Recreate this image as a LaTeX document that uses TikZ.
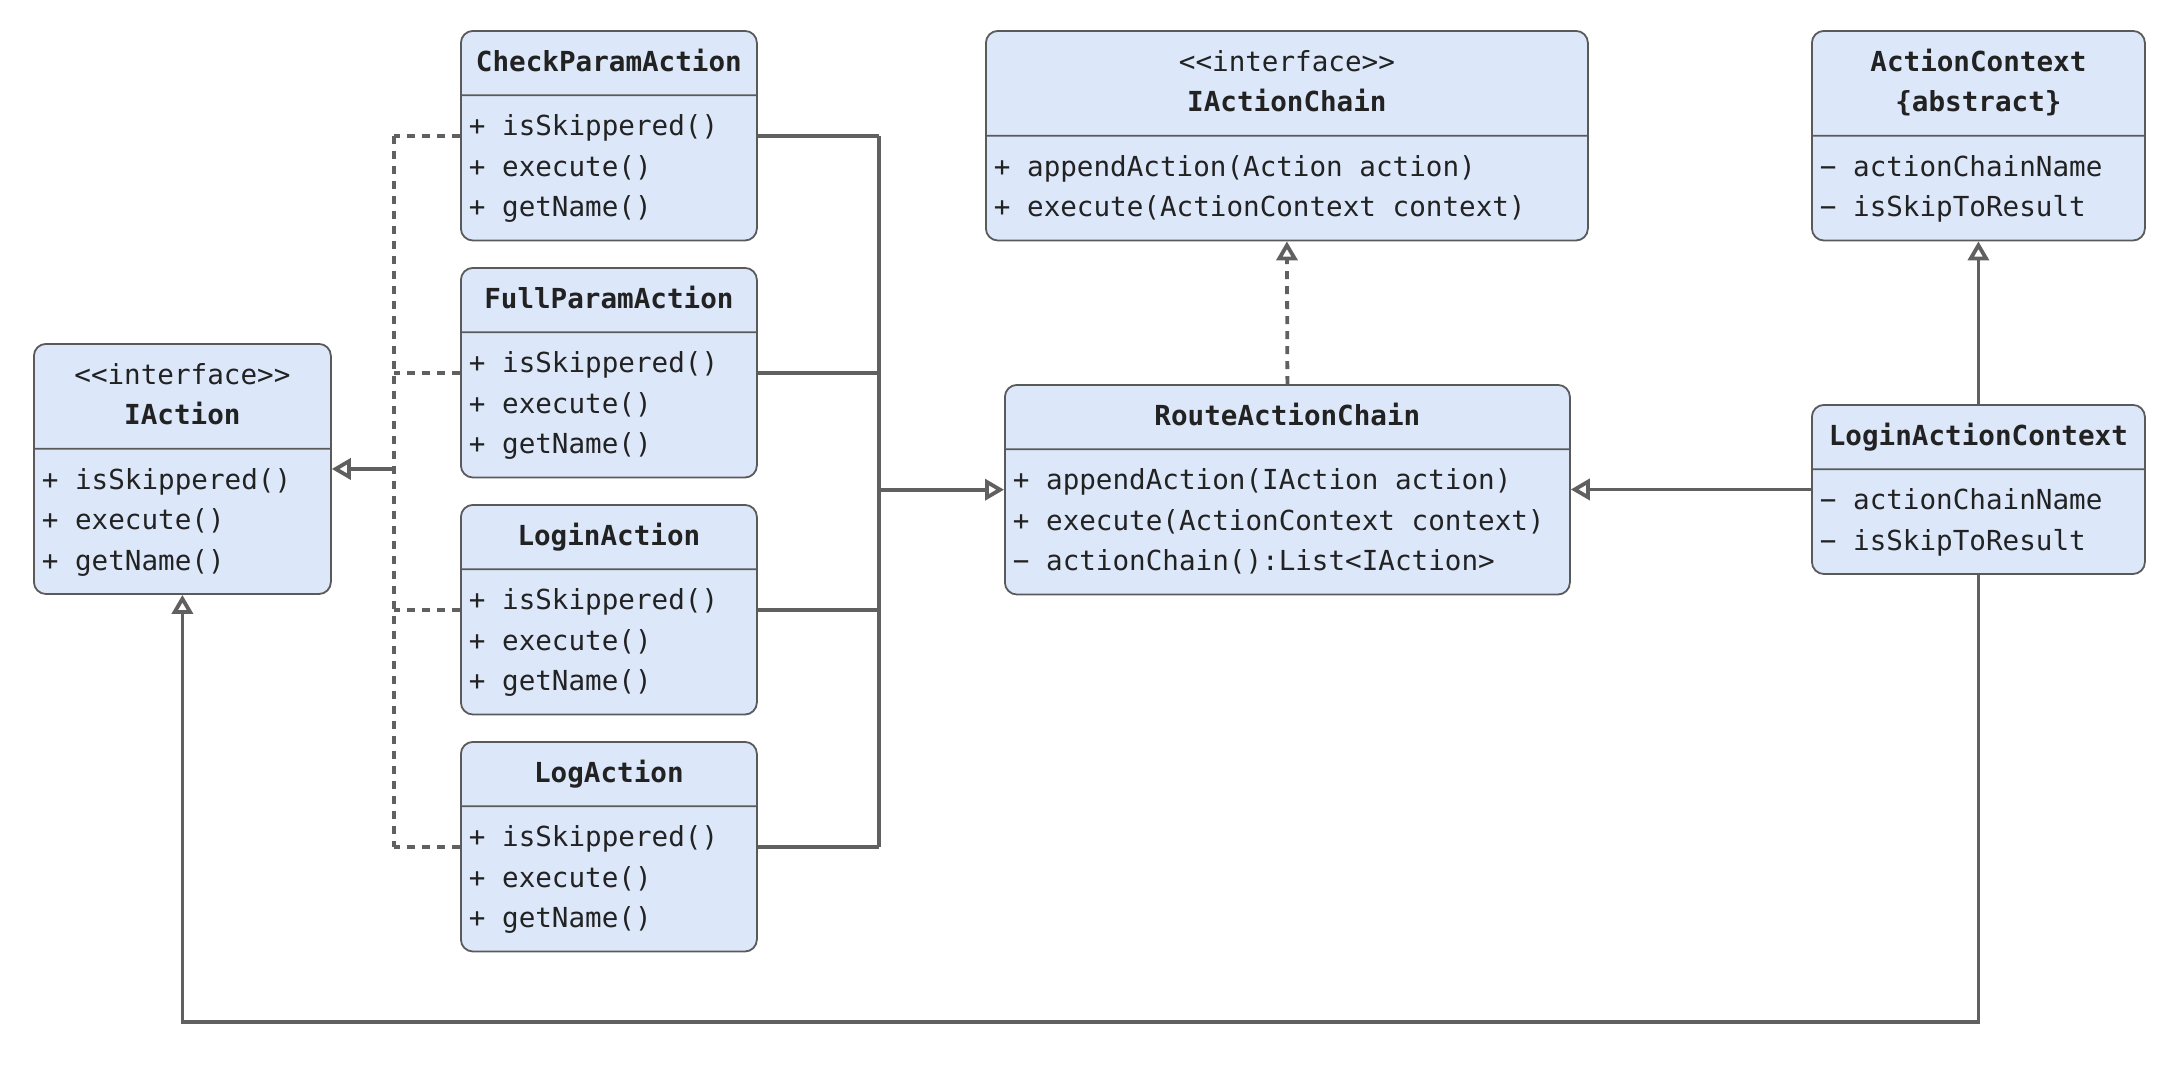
\documentclass[tikz,border=0pt]{standalone}
\usepackage{fontspec}
\setmonofont{DejaVu Sans Mono}
\usepackage{tikz}
\usetikzlibrary{shapes.multipart, arrows.meta, positioning}
\definecolor{classfill}{RGB}{220,232,250}
\definecolor{classedge}{RGB}{90,90,90}
\definecolor{linkgray}{RGB}{96,96,96}
\definecolor{textdark}{RGB}{34,34,34}
\newcommand{\headstrut}{\rule[-6pt]{0pt}{20.25pt}}
\newcommand{\bodystrut}{\rule[-6pt]{0pt}{20.25pt}}
\tikzset{
  class_font/.style = {font=\ttfamily\fontsize{13.8pt}{20.25pt}\selectfont, text=textdark},
  uml_class/.style = {class_font, rectangle split, rectangle split parts=2,
    draw=classedge, fill=classfill, line width=0.9pt, rounded corners=6pt,
    inner xsep=4pt, inner ysep=5.5pt, align=flush left, anchor=north west},
  action_size/.style = {text width=140pt},
  chain_size/.style = {text width=293pt},
  context_size/.style = {text width=158.5pt}
}
\tikzset{
  link/.style = {draw=linkgray, line width=1.9pt},
  realizes/.style = {link, dash pattern=on 4pt off 3.5pt},
  to_parent/.style = {-{Triangle[open, length=9.5pt, width=10.5pt]}}
}
\begin{document}
\begin{tikzpicture}[x=0.5pt, y=-0.5pt]
    \useasboundingbox (0,0) rectangle (2168,1072);

    % Bus points
    \coordinate (left_bus) at (394,0);
    \coordinate (right_bus) at (879,0);
    \coordinate (bottom_row) at (0,1022);

    % Interface
    \node[uml_class, text width=140.5pt] at (33,343) (iaction) {
        \centering\headstrut <{}<interface>{}>\\ \bfseries\headstrut IAction\par
        \nodepart{two}\bodystrut + isSkippered()\\ \bodystrut + execute()\\ \bodystrut + getName()
        };

    % Actions
    \node[uml_class, action_size] at (460,30) (check_param) {
        \centering\bfseries\headstrut CheckParamAction\par
        \nodepart{two}\bodystrut + isSkippered()\\ \bodystrut + execute()\\ \bodystrut + getName()
        };
    \node[uml_class, action_size, below=12.8pt of check_param] (full_param) {
        \centering\bfseries\headstrut FullParamAction\par
        \nodepart{two}\bodystrut + isSkippered()\\ \bodystrut + execute()\\ \bodystrut + getName()
        };
    \node[uml_class, action_size, below=12.8pt of full_param] (login_action) {
        \centering\bfseries\headstrut LoginAction\par
        \nodepart{two}\bodystrut + isSkippered()\\ \bodystrut + execute()\\ \bodystrut + getName()
        };
    \node[uml_class, action_size, below=12.8pt of login_action] (log_action) {
        \centering\bfseries\headstrut LogAction\par
        \nodepart{two}\bodystrut + isSkippered()\\ \bodystrut + execute()\\ \bodystrut + getName()
        };

    % Chains
    \node[uml_class, chain_size] at (985,30) (iaction_chain) {
        \centering\headstrut <{}<interface>{}>\\ \bfseries\headstrut IActionChain\par
        \nodepart{two}\bodystrut + appendAction(Action action)\\ \bodystrut + execute(ActionContext context)
        };
    \node[uml_class, text width=274.5pt] at (1004,384) (route_chain) {
        \centering\bfseries\headstrut RouteActionChain\par
        \nodepart{two}\bodystrut + appendAction(IAction action)\\ \bodystrut + execute(ActionContext context)\\ \bodystrut − actionChain():List<IAction>
        };

    % Contexts
    \node[uml_class, context_size] at (1811,30) (action_context) {
        \centering\bfseries\headstrut ActionContext\\ \headstrut \{abstract\}\par
        \nodepart{two}\bodystrut − actionChainName\\ \bodystrut − isSkipToResult
        };
    \node[uml_class, context_size] at (1811,404) (login_context) {
        \centering\bfseries\headstrut LoginActionContext\par
        \nodepart{two}\bodystrut − actionChainName\\ \bodystrut − isSkipToResult
        };

    % Realization of IAction
    \draw[realizes] (check_param.west) -- (check_param.west -| left_bus);
    \draw[realizes] (full_param.west) -- (full_param.west -| left_bus);
    \draw[realizes] (login_action.west) -- (login_action.west -| left_bus);
    \draw[realizes] (log_action.west) -- (log_action.west -| left_bus);
    \draw[realizes] (check_param.west -| left_bus) -- (log_action.west -| left_bus);
    \draw[link, to_parent] (iaction.east -| left_bus) -- (iaction.east);

    % Actions into the chain
    \draw[link] (check_param.east) -- (check_param.east -| right_bus);
    \draw[link] (full_param.east) -- (full_param.east -| right_bus);
    \draw[link] (login_action.east) -- (login_action.east -| right_bus);
    \draw[link] (log_action.east) -- (log_action.east -| right_bus);
    \draw[link] (check_param.east -| right_bus) -- (log_action.east -| right_bus);
    \draw[link, to_parent] (route_chain.west -| right_bus) -- (route_chain.west);

    % Chain and contexts
    \draw[realizes, to_parent] (route_chain.north) -- (iaction_chain.south);
    \draw[link, to_parent] (login_context.north) -- (action_context.south);
    \draw[link, to_parent] (login_context.west) -- (login_context.west -| route_chain.east);
    \draw[link, to_parent] (login_context.south) -- (login_context.south |- bottom_row)
        -- (iaction.south |- bottom_row) -- (iaction.south);
\end{tikzpicture}
\end{document}
